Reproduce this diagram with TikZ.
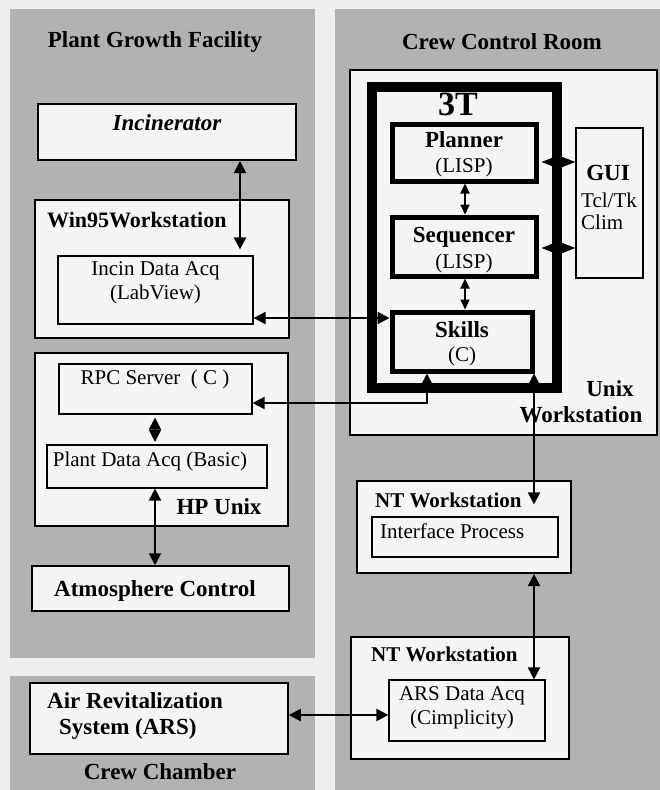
\documentclass[tikz,border=0pt]{standalone}
\usepackage{fontspec}
\setmainfont{Liberation Serif}
\usetikzlibrary{arrows.meta}
\definecolor{panel}{RGB}{178,178,178}
\definecolor{paper}{RGB}{238,238,238}
\definecolor{boxfill}{RGB}{245,245,245}
\begin{document}
\begin{tikzpicture}[x=1pt,y=-1pt,
  box/.style={draw=black, fill=boxfill, line width=2pt, inner sep=0pt},
  thinbox/.style={box, line width=1.2pt},
  layer/.style={box, line width=5pt},
  lbl/.style={inner sep=0pt, font=\fontsize{23}{26}\selectfont\bfseries},
  txt/.style={inner sep=0pt, font=\fontsize{21}{24}\selectfont},
  ntl/.style={inner sep=0pt, anchor=west, font=\fontsize{21}{24}\selectfont\bfseries},
  conn/.style={line width=1.9pt, {Triangle[width=12pt,length=12pt]}-{Triangle[width=12pt,length=12pt]}},
  smallconn/.style={line width=1.8pt, {Triangle[width=9pt,length=10pt]}-{Triangle[width=9pt,length=10pt]}},
  diam/.style={line width=1.5pt, {Triangle[width=12pt,length=12pt]}-{Triangle[width=12pt,length=12pt]}},
  diamh/.style={line width=1.5pt, {Triangle[width=12pt,length=16pt]}-{Triangle[width=12pt,length=16pt]}}
]
\useasboundingbox (0,0) rectangle (660,790);
\fill[paper] (0,0) rectangle (660,790);
% panels
\fill[panel] (10,9) rectangle (315,658);
\fill[panel] (10,676) rectangle (315,790);
\fill[panel] (335,9) rectangle (660,790);
\node[lbl] (tPGF) at (155,42) {Plant Growth Facility};
\node[lbl] (tCCR) at (502,42) {Crew Control Room};
\node[lbl] (tCC) at (160,772) {Crew Chamber};

% left column
\node[box, minimum width=258pt, minimum height=56pt] (inc) at (167,132) {};
\node[lbl, font=\fontsize{23}{26}\selectfont\bfseries\itshape] (tinc) at (167,123) {Incinerator};
\node[box, minimum width=254pt, minimum height=138pt] (win) at (162,269) {};
\node[ntl, font=\fontsize{22}{26}\selectfont\bfseries] (twin) at (47,220) {Win95Workstation};
\node[thinbox, minimum width=195pt, minimum height=68pt] (incacq) at (155.5,290) {};
\node[txt, align=center] (tincacq) at (155.5,283) {Incin Data Acq\\(LabView)};

\node[box, minimum width=253pt, minimum height=173pt] (hp) at (161.5,439.5) {};
\node[thinbox, minimum width=193pt, minimum height=50pt] (rpc) at (155.5,389) {};
\node[txt] (trpc) at (155,379) {RPC Server\ \ ( C )};
\node[thinbox, minimum width=220pt, minimum height=43pt] (plant) at (157,466.5) {};
\node[txt] (tplant) at (150,461) {Plant Data Acq (Basic)};
\node[lbl] (thp) at (219,507) {HP Unix};

\node[box, line width=1.5pt, minimum width=257pt, minimum height=45pt] (atm) at (160.5,588.5) {};
\node[lbl] (tatm) at (155,591) {Atmosphere Control};

\node[box, line width=1.5pt, minimum width=258pt, minimum height=71pt] (ars) at (159,718.5) {};
\node[lbl, anchor=west] (tars1) at (47,701) {Air Revitalization};
\node[lbl, anchor=west] (tars2) at (59,729) {System (ARS)};

% right column
\node[box, minimum width=307pt, minimum height=365pt] (unix) at (503.5,252.5) {};
\node[lbl] (tunix1) at (610,389) {Unix};
\node[lbl] (tunix2) at (581,415) {Workstation};
\node[draw=black, fill=boxfill, line width=10pt, inner sep=0pt, minimum width=185pt, minimum height=301pt] (tt) at (464.5,237.5) {};
\node[inner sep=0pt, font=\fontsize{34}{36}\selectfont\bfseries] (t3t) at (458,104) {3T};
\node[layer, minimum width=144pt, minimum height=57pt] (planner) at (464,152.5) {};
\node[lbl] (tplan) at (464,140) {Planner};
\node[txt] (tplan2) at (464,167) {(LISP)};
\node[layer, minimum width=144pt, minimum height=59pt] (seq) at (464,246.5) {};
\node[lbl] (tseq) at (464,237) {Sequencer};
\node[txt] (tseq2) at (464,263) {(LISP)};
\node[layer, minimum width=140pt, minimum height=59pt] (skills) at (462,341.5) {};
\node[lbl] (tsk) at (462,330) {Skills};
\node[txt] (tsk2) at (462,356) {(C)};
\node[thinbox, minimum width=67pt, minimum height=150pt] (gui) at (609.5,203) {};
\node[lbl] (tgui) at (608,173) {GUI};
\node[txt] (tgui2) at (609,200) {Tcl/Tk};
\node[txt, anchor=west] (tgui3) at (581,222) {Clim};

\node[box, minimum width=214pt, minimum height=92pt] (nt1) at (464,527) {};
\node[ntl] (tnt1) at (375,500) {NT Workstation};
\node[thinbox, minimum width=186pt, minimum height=40pt] (iface) at (465,537) {};
\node[txt, anchor=west] (tiface) at (380,531) {Interface Process};

\node[box, minimum width=218pt, minimum height=122pt] (nt2) at (460,698) {};
\node[ntl] (tnt2) at (371,654) {NT Workstation};
\node[thinbox, minimum width=156pt, minimum height=61pt] (arsacq) at (467,710.5) {};
\node[txt, align=center] (tarsacq) at (462,708) {ARS Data Acq\\(Cimplicity)};

% connector coordinates
\coordinate (x240) at (240,0);
\coordinate (x155) at (155,0);
\coordinate (x465) at (465,0);
\coordinate (x534) at (534,0);
\coordinate (y318) at (0,318);
\coordinate (y715) at (0,715);
\coordinate (y162) at (0,162);
\coordinate (y248) at (0,248);
\coordinate (k3) at (427,403);

\draw[conn, shorten >=6pt] (inc.south -| x240) -- (incacq.north -| x240);
\draw[conn] (incacq.east |- y318) -- (skills.west |- y318);
\draw[conn] (rpc.east |- k3) -- (k3) -- (skills.south -| k3);
\draw[conn, shorten >=12pt] (skills.south -| x534) -- (iface.north -| x534);
\draw[conn] (nt1.south -| x534) -- (arsacq.north -| x534);
\draw[conn] (ars.east |- y715) -- (arsacq.west |- y715);
\draw[conn] (plant.south -| x155) -- (atm.north -| x155);
\draw[diam, shorten <=3pt, shorten >=2.5pt] (rpc.south -| x155) -- (plant.north -| x155);
\draw[smallconn] (planner.south -| x465) -- (seq.north -| x465);
\draw[smallconn] (seq.south -| x465) -- (skills.north -| x465);
\draw[diamh, shorten <=3pt] (planner.east |- y162) -- (gui.west |- y162);
\draw[diamh, shorten <=3pt] (seq.east |- y248) -- (gui.west |- y248);
\end{tikzpicture}
\end{document}
